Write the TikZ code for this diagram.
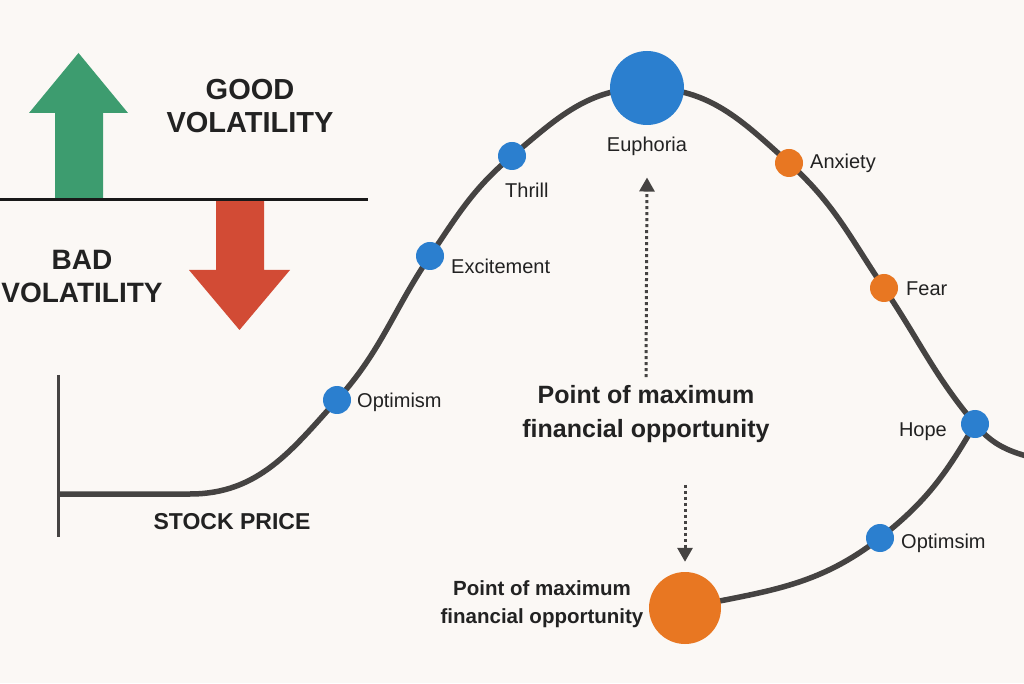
\documentclass[tikz,border=0pt]{standalone}
\usepackage{fontspec}
\setmainfont{Liberation Sans}
\usetikzlibrary{arrows.meta}
\pgfdeclarelayer{bottom}
\pgfdeclarelayer{curvelayer}
\pgfsetlayers{bottom,curvelayer,main}
\definecolor{bg}{HTML}{FBF8F5}
\definecolor{curvec}{HTML}{454342}
\definecolor{dotblue}{HTML}{2B7FCF}
\definecolor{dotorange}{HTML}{E87722}
\definecolor{txt}{HTML}{222222}
\definecolor{upgreen}{HTML}{3D9C6F}
\definecolor{downred}{HTML}{D24B35}
\tikzset{
  dotb/.style={circle,fill=dotblue,minimum size=28pt,inner sep=0pt},
  doto/.style={circle,fill=dotorange,minimum size=28pt,inner sep=0pt},
  lbl/.style={text=txt,font=\fontsize{20}{24}\selectfont,inner sep=0pt},
  bold/.style={text=txt,font=\bfseries\fontsize{25}{34}\selectfont,align=center,inner sep=0pt},
  curveline/.style={draw=curvec,line width=5.5pt},
  dotarrow/.style={draw=curvec,line width=3pt,dash pattern=on 3pt off 3pt,-{Triangle[width=15pt,length=14pt]}}
}
\begin{document}
\begin{tikzpicture}[x=1pt,y=1pt]
\begin{pgfonlayer}{bottom}
\fill[bg] (0,0) rectangle (1024,683);
\end{pgfonlayer}
\useasboundingbox (0,0) rectangle (1024,683);
% left arrows and line
\fill[upgreen] (55,485) -- (55,570) -- (29,570) -- (78.5,630) -- (128,570) -- (103,570) -- (103,485) -- cycle;
\fill[downred] (216,483) -- (216,413) -- (189,413) -- (239.5,353) -- (290,413) -- (264,413) -- (264,483) -- cycle;
\coordinate (hl) at (0,483);
\coordinate (hr) at (368,483);
\draw[line width=3pt,black!90] (hl) -- (hr);
\node[text=txt,font=\bfseries\fontsize{29}{33}\selectfont,align=center] (good) at (250,577) {GOOD\\VOLATILITY};
\node[text=txt,font=\bfseries\fontsize{28}{33}\selectfont,align=center] (bad) at (82,406) {BAD\\VOLATILITY};
% axis
\coordinate (axt) at (58,308);
\coordinate (axb) at (58,146);
\coordinate (base0) at (58,189);
\coordinate (base1) at (190,189);
\coordinate (rexit) at (1030,226);
\draw[line width=3pt,curvec] (axt) -- (axb);
% dots
\node[dotb] (opt) at (337,283) {};
\node[dotb] (exc) at (430,427) {};
\node[dotb] (thr) at (512,527) {};
\node[dotb,minimum size=74pt] (eup) at (647,595) {};
\node[doto] (anx) at (789,520) {};
\node[doto] (fear) at (884,395) {};
\node[dotb] (hope) at (975,259) {};
\node[dotb] (opt2) at (880,145) {};
\node[doto,minimum size=72pt] (low) at (685,75) {};
% curve
\begin{pgfonlayer}{curvelayer}
\draw[curveline] (base0) -- (base1) to[out=0,in=228] (opt.center) to[out=48,in=236] (exc.center) to[out=56,in=220] (thr.center) to[out=40,in=180] (eup.center) to[out=0,in=138] (anx.center) to[out=-42,in=124] (fear.center) to[out=-56,in=130] (hope.center) to[out=-50,in=165] (rexit);
\draw[curveline] (hope.center) to[out=240,in=38] (opt2.center) to[out=218,in=12] (low.center);
\end{pgfonlayer}
% labels
\node[lbl] (eupl) at (647,537) {Euphoria};
\node[lbl,anchor=west] (thrl) at (505,493) {Thrill};
\node[lbl,anchor=west] (excl) at (451,417) {Excitement};
\node[lbl,anchor=west] (optl) at (357,281) {Optimism};
\node[lbl,anchor=west] (anxl) at (810,520) {Anxiety};
\node[lbl,anchor=west] (fearl) at (906,394) {Fear};
\node[lbl,anchor=east] (hopel) at (947,251) {Hope};
\node[lbl,anchor=west] (opt2l) at (901,140) {Optimsim};
\node[text=txt,font=\bfseries\fontsize{23}{26}\selectfont,inner sep=0pt] (stock) at (232,161) {STOCK PRICE};
\node[bold] (mid) at (646,269) {Point of maximum\\financial opportunity};
\node[bold,font=\bfseries\fontsize{20.5}{28}\selectfont] (lowl) at (542,79) {Point of maximum\\financial opportunity};
% dotted arrows
\draw[dotarrow] ([yshift=8pt]mid.north) -- ([yshift=-22pt]eupl.south);
\draw[dotarrow] ([yshift=87pt]low.north) -- ([yshift=10pt]low.north);
\end{tikzpicture}
\end{document}
